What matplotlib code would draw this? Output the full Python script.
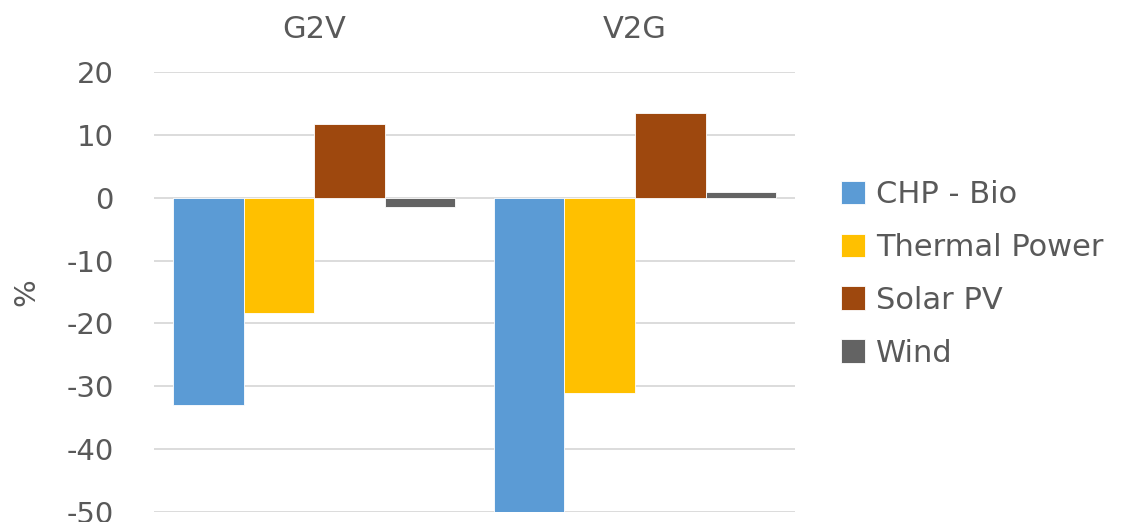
import numpy as np
import matplotlib.pyplot as plt

plt.rcParams['font.family'] = ['DejaVu Sans']
plt.rcParams['axes.unicode_minus'] = False

scenarios = ['G2V', 'V2G']
sources = ['CHP - Bio', 'Thermal Power', 'Solar PV', 'Wind']
chp_bio = [-33.0, -50.0]
thermal = [-18.3, -31.0]
solar_pv = [11.7, 13.5]
wind = [-1.5, 0.9]
colors = ['#5B9BD5', '#FFC000', '#9E480E', '#636363']
txt = '#595959'

fig = plt.figure(figsize=(11.41, 5.22), dpi=100)
ax = fig.add_axes([0.135, 0.019, 0.562, 0.843])

x = np.arange(len(scenarios))
w = 0.22
series = [chp_bio, thermal, solar_pv, wind]
for i, vals in enumerate(series):
    ax.bar(x + (i - 1.5) * w, vals, w, color=colors[i], label=sources[i],
           edgecolor='white', linewidth=0.6, zorder=3)

ax.set_xlim(-0.5, 1.5)
ax.set_ylim(-50, 20)
ax.set_yticks(range(-50, 21, 10))
ax.yaxis.grid(True, color='#d9d9d9', linewidth=1.3, zorder=0)
ax.set_axisbelow(True)
for s in ax.spines.values():
    s.set_visible(False)

# scenario names sit above the plot
ax.xaxis.tick_top()
ax.set_xticks(x)
ax.set_xticklabels(scenarios)
ax.tick_params(axis='x', length=0, pad=20, labelsize=22, labelcolor=txt)
ax.tick_params(axis='y', length=0, pad=29, labelsize=21, labelcolor=txt)
ax.set_ylabel('%', fontsize=21, color=txt, labelpad=19)

fig.legend(loc='upper left', bbox_to_anchor=(0.737, 0.655), frameon=False,
           fontsize=22, labelcolor=txt, handlelength=0.8, handleheight=0.8,
           handletextpad=0.35, labelspacing=0.78, borderpad=0, borderaxespad=0)

fig.savefig('out.png', dpi=100)
